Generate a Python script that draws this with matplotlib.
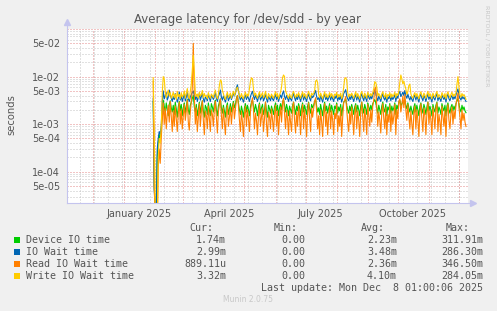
import numpy as np
import pandas as pd
import matplotlib
matplotlib.use("Agg")
import matplotlib.pyplot as plt
from matplotlib.patches import Rectangle
from matplotlib.ticker import NullLocator

W, H = 497, 311

# daily samples ending on last_day, values in milliseconds
last_day = "2025-12-08"

device_io_ms = [
    3.0, 0.05, 0.02, 0.01, 0.2, 0.4, 0.6, 0.5, 0.7, 2.1, 3.2, 2.4, 1.7, 2.8, 2.0, 1.5, 2.6, 3.1, 2.2, 1.8,
    2.5, 1.6, 2.9, 2.1, 1.4, 2.3, 3.0, 1.9, 2.6, 1.5, 2.2, 2.8, 1.7, 2.4, 3.3, 2.0, 1.6, 2.5, 2.9, 3.5,
    4.0, 2.3, 1.8, 2.6, 1.5, 2.1, 2.9, 1.7, 2.4, 3.1, 1.9, 1.4, 2.5, 2.2, 1.6, 2.8, 2.0, 1.5, 2.7, 2.3,
    1.8, 2.6, 3.2, 2.0, 1.5, 2.4, 2.9, 3.4, 2.2, 1.7, 2.5, 1.9, 1.4, 2.3, 2.8, 1.6, 2.1, 2.7, 1.8, 2.4,
    3.0, 2.2, 2.6, 3.5, 4.0, 2.8, 2.0, 1.6, 2.4, 1.9, 1.4, 2.2, 2.7, 1.8, 2.5, 2.0, 1.5, 2.3, 2.9, 3.2,
    2.4, 1.8, 2.6, 2.1, 1.5, 2.3, 2.8, 1.7, 2.2, 2.6, 1.6, 2.0, 2.9, 1.9, 1.4, 2.5, 2.1, 1.7, 2.4, 2.0,
    1.6, 2.3, 2.8, 1.9, 2.5, 1.5, 2.2, 2.7, 2.0, 2.9, 3.3, 2.4, 1.8, 2.6, 2.1, 1.5, 2.4, 2.0, 1.7, 2.5,
    2.9, 2.1, 1.6, 2.4, 1.9, 2.7, 2.2, 1.5, 2.3, 2.8, 1.8, 2.5, 2.0, 1.6, 2.4, 2.9, 2.1, 1.7, 2.6, 2.2,
    2.5, 3.0, 3.3, 2.4, 1.8, 2.2, 1.6, 2.6, 2.0, 1.5, 2.3, 2.9, 1.9, 2.4, 1.7, 2.2, 2.7, 1.8, 2.5, 2.0,
    1.6, 2.4, 2.1, 2.8, 1.7, 2.3, 1.9, 2.6, 1.5, 2.2, 2.9, 3.1, 3.4, 2.5, 2.0, 1.7, 2.4, 1.9, 2.6, 2.1,
    1.6, 2.3, 2.7, 1.8, 2.5, 2.0, 1.5, 2.4, 2.9, 2.2, 1.7, 2.6, 2.1, 1.6, 2.8, 2.3, 1.9, 2.5, 2.0, 2.7,
    3.0, 3.3, 2.8, 2.2, 1.7, 2.5, 2.0, 1.6, 2.4, 2.9, 2.1, 1.8, 2.6, 1.5, 2.3, 2.0, 2.7, 1.7, 2.4, 1.9,
    2.2, 2.8, 1.6, 2.5, 2.1, 2.9, 3.2, 2.4, 2.7, 3.0, 2.6, 3.3, 2.5, 2.1, 2.8, 2.2, 1.8, 2.4, 1.9, 1.6,
    2.3, 2.7, 1.8, 2.5, 2.0, 1.5, 2.4, 2.8, 2.1, 1.7, 2.6, 2.2, 1.6, 2.3, 2.9, 1.9, 2.4, 2.0, 1.5, 2.6,
    2.1, 1.8, 2.5, 2.9, 1.7, 2.3, 2.0, 1.6, 2.7, 2.2, 1.9, 2.5, 1.5, 2.4, 2.8, 2.0, 1.7, 2.3, 2.6, 1.9,
    2.4, 2.0, 2.7, 3.1, 3.5, 2.6, 2.1, 1.8, 2.5, 2.0, 2.3, 1.9, 1.74,
]
io_wait_ms = [
    3.5, 0.04, 0.02, 0.01, 0.3, 0.5, 0.7, 0.6, 0.9, 2.8, 5.0, 3.4, 3.9, 4.6, 3.2, 3.7, 5.2, 4.1, 3.5, 3.0,
    3.8, 3.3, 4.4, 3.6, 2.9, 3.5, 4.7, 3.2, 3.9, 3.0, 3.6, 4.3, 3.1, 3.7, 4.8, 3.4, 3.0, 3.8, 4.2, 4.6,
    5.0, 3.9, 3.3, 4.1, 3.0, 3.6, 4.4, 3.2, 3.8, 4.5, 3.4, 2.9, 3.7, 3.5, 3.1, 4.2, 3.6, 3.0, 4.0, 3.7,
    3.3, 3.9, 4.6, 3.5, 3.0, 3.8, 4.3, 5.2, 3.7, 3.2, 3.9, 3.4, 2.9, 3.6, 4.2, 3.1, 3.5, 4.0, 3.3, 3.8,
    4.5, 3.9, 4.4, 5.8, 6.7, 5.0, 3.8, 3.2, 3.7, 3.4, 2.9, 3.6, 4.1, 3.3, 3.9, 3.5, 3.0, 3.8, 4.4, 4.9,
    3.9, 3.3, 4.0, 3.6, 3.0, 3.7, 4.3, 3.2, 3.6, 4.0, 3.1, 3.5, 4.4, 3.4, 2.9, 3.8, 3.5, 3.1, 3.9, 3.4,
    3.1, 3.7, 4.2, 3.3, 3.9, 3.0, 3.6, 4.1, 3.5, 4.4, 5.0, 3.8, 3.3, 4.0, 3.5, 3.0, 3.8, 3.4, 3.1, 3.9,
    4.4, 3.6, 3.1, 3.8, 3.3, 4.1, 3.6, 3.0, 3.7, 4.3, 3.2, 3.9, 3.4, 3.0, 3.8, 4.4, 3.5, 3.1, 4.0, 3.6,
    3.9, 4.5, 5.1, 3.8, 3.3, 3.6, 3.0, 4.0, 3.4, 2.9, 3.7, 4.4, 3.3, 3.8, 3.1, 3.6, 4.2, 3.2, 3.9, 3.4,
    3.0, 3.8, 3.5, 4.3, 3.1, 3.7, 3.3, 4.0, 2.9, 3.6, 4.4, 4.8, 5.3, 3.9, 3.4, 3.1, 3.8, 3.3, 4.0, 3.5,
    3.0, 3.7, 4.2, 3.2, 3.9, 3.4, 2.9, 3.8, 4.4, 3.6, 3.1, 4.0, 3.5, 3.0, 4.3, 3.7, 3.3, 3.9, 3.4, 4.1,
    4.6, 5.2, 4.4, 3.6, 3.1, 3.9, 3.4, 3.0, 3.8, 4.4, 3.5, 3.2, 4.0, 2.9, 3.7, 3.4, 4.2, 3.1, 3.8, 3.3,
    3.6, 4.3, 3.0, 3.9, 3.5, 4.4, 4.9, 3.8, 4.2, 4.7, 4.0, 5.1, 3.9, 3.5, 4.3, 3.6, 3.2, 3.8, 3.3, 3.0,
    3.7, 4.1, 3.2, 3.9, 3.4, 2.9, 3.8, 4.3, 3.5, 3.1, 4.0, 3.6, 3.0, 3.7, 4.4, 3.3, 3.8, 3.4, 2.9, 4.0,
    3.5, 3.2, 3.9, 4.4, 3.1, 3.7, 3.4, 3.0, 4.1, 3.6, 3.3, 3.9, 2.9, 3.8, 4.3, 3.4, 3.1, 3.7, 4.0, 3.3,
    3.8, 3.4, 4.1, 4.8, 5.5, 4.0, 3.5, 3.2, 3.9, 3.4, 3.7, 3.3, 2.99,
]
read_wait_ms = [
    8.0, 0.05, 0.01, 0.005, 0.005, 0.12, 0.3, 0.15, 0.5, 1.2, 2.8, 1.0, 2.2, 0.8, 1.6, 2.5, 1.1, 3.0, 1.4, 0.7,
    1.9, 0.9, 2.4, 1.3, 0.7, 1.7, 2.9, 1.0, 2.1, 0.8, 1.5, 2.6, 1.2, 1.9, 3.2, 1.1, 0.75, 1.8, 3.0, 6.0,
    50.0, 4.0, 1.0, 2.2, 0.7, 1.4, 2.7, 0.9, 1.8, 3.1, 1.2, 0.6, 1.9, 1.5, 0.8, 2.4, 1.3, 0.7, 2.0, 1.6,
    0.9, 2.1, 3.0, 1.4, 0.65, 1.8, 2.6, 3.4, 1.5, 0.8, 2.2, 1.1, 0.6, 1.7, 2.5, 0.9, 1.4, 2.3, 1.0, 1.9,
    2.8, 1.3, 2.1, 3.3, 4.0, 2.5, 1.2, 0.7, 1.9, 1.1, 0.55, 1.6, 2.4, 0.9, 2.0, 1.3, 0.7, 1.8, 2.7, 3.6,
    2.0, 0.8, 1.7, 1.2, 0.6, 1.5, 2.6, 0.9, 1.4, 2.2, 0.7, 1.3, 2.9, 1.0, 0.55, 1.8, 1.4, 0.8, 2.1, 1.2,
    0.7, 1.6, 2.5, 0.9, 1.9, 0.6, 1.4, 2.3, 1.1, 2.8, 3.5, 1.7, 0.8, 2.0, 1.3, 0.6, 1.9, 1.1, 0.7, 2.2,
    2.9, 1.2, 0.65, 1.8, 0.9, 2.4, 1.4, 0.6, 1.6, 2.6, 0.8, 2.0, 1.2, 0.55, 1.7, 2.8, 1.3, 0.7, 2.2, 1.4,
    2.1, 3.0, 3.6, 1.9, 0.8, 1.5, 0.6, 2.0, 1.1, 0.55, 1.6, 2.7, 0.9, 1.8, 0.6, 1.4, 2.4, 0.8, 1.9, 1.2,
    0.6, 1.7, 1.3, 2.6, 0.7, 1.5, 0.9, 2.2, 0.55, 1.4, 2.8, 3.2, 3.8, 2.0, 1.1, 0.7, 1.8, 1.0, 2.3, 1.3,
    0.6, 1.6, 2.5, 0.8, 1.9, 1.2, 0.55, 1.7, 2.9, 1.4, 0.7, 2.1, 1.3, 0.6, 2.6, 1.5, 0.9, 2.0, 1.1, 2.4,
    3.2, 5.5, 6.0, 2.4, 0.9, 1.8, 1.2, 0.65, 1.7, 2.7, 1.3, 0.8, 2.2, 0.6, 1.6, 1.1, 2.5, 0.7, 1.9, 1.0,
    1.5, 2.6, 0.6, 2.0, 1.3, 2.9, 3.4, 1.8, 2.5, 3.9, 2.2, 4.2, 2.0, 1.2, 2.6, 1.4, 0.8, 1.9, 1.0, 0.6,
    1.7, 2.4, 0.8, 2.0, 1.2, 0.55, 1.8, 2.7, 1.3, 0.7, 2.2, 1.5, 0.6, 1.7, 2.9, 1.0, 1.9, 1.2, 0.6, 2.3,
    1.4, 0.8, 2.1, 2.8, 0.7, 1.6, 1.1, 0.6, 2.4, 1.5, 0.9, 2.0, 0.55, 1.8, 2.6, 1.2, 0.8, 1.7, 2.3, 1.0,
    1.9, 1.3, 2.6, 3.4, 4.5, 2.2, 1.4, 0.8, 2.0, 1.2, 1.7, 1.1, 0.889,
]
write_wait_ms = [
    9.5, 0.8, 0.02, 0.01, 0.005, 0.2, 0.5, 0.4, 0.9, 4.5, 10.0, 9.0, 4.8, 3.6, 4.4, 5.2, 3.9, 4.6, 3.5, 4.0,
    4.7, 3.6, 4.3, 3.3, 4.9, 3.8, 4.2, 3.4, 4.6, 3.7, 4.1, 5.0, 3.5, 4.4, 5.6, 3.9, 3.4, 4.8, 7.0, 14.0,
    28.0, 12.0, 4.6, 3.8, 4.3, 3.5, 4.7, 3.9, 4.2, 5.1, 3.6, 4.4, 3.8, 4.0, 3.4, 4.6, 3.9, 3.5, 4.3, 4.0,
    3.6, 4.5, 5.2, 3.9, 3.4, 4.2, 6.5, 8.5, 8.0, 5.0, 4.4, 3.7, 3.3, 4.1, 4.7, 3.6, 4.0, 4.5, 3.5, 4.2,
    4.9, 4.0, 4.6, 5.5, 6.0, 4.8, 4.1, 3.6, 4.4, 3.8, 3.4, 4.2, 4.7, 3.7, 4.3, 3.9, 5.5, 8.0, 9.4, 9.0,
    5.5, 3.9, 4.5, 4.0, 3.5, 4.2, 4.8, 3.7, 4.1, 4.6, 3.6, 4.0, 4.9, 3.8, 3.4, 4.4, 4.0, 3.6, 4.3, 3.9,
    3.5, 4.2, 4.8, 3.8, 4.4, 3.4, 4.1, 4.7, 6.0, 9.5, 10.8, 10.0, 5.0, 4.4, 3.9, 3.5, 4.3, 3.8, 3.5, 4.4,
    4.9, 4.1, 3.6, 4.3, 3.8, 4.6, 4.0, 3.5, 4.2, 4.8, 3.7, 4.4, 3.9, 3.5, 4.2, 4.9, 4.0, 3.6, 4.5, 4.1,
    4.4, 5.0, 8.0, 8.5, 7.5, 4.2, 3.6, 4.5, 3.9, 3.4, 4.1, 4.8, 3.7, 4.3, 3.6, 4.0, 4.6, 3.7, 4.4, 3.9,
    3.5, 4.3, 4.0, 4.7, 3.6, 4.2, 3.8, 4.5, 3.4, 4.0, 6.0, 9.0, 9.5, 8.5, 4.6, 3.7, 4.3, 3.9, 4.5, 4.0,
    3.5, 4.2, 4.8, 3.7, 4.4, 3.9, 3.4, 4.3, 4.9, 4.1, 3.6, 4.5, 4.0, 3.5, 4.7, 4.2, 3.8, 4.4, 3.9, 4.6,
    5.5, 7.8, 7.5, 6.0, 3.9, 4.4, 4.0, 3.5, 4.3, 4.8, 4.0, 3.7, 4.5, 3.4, 4.2, 3.9, 4.6, 3.6, 4.3, 3.8,
    4.1, 4.7, 3.6, 4.4, 4.0, 4.9, 7.5, 10.8, 9.0, 7.0, 8.0, 6.5, 5.5, 4.2, 4.8, 6.5, 7.0, 4.3, 3.8, 3.5,
    4.2, 4.6, 3.7, 4.4, 3.9, 3.4, 4.3, 4.8, 4.0, 3.6, 4.5, 4.1, 3.5, 4.2, 4.9, 3.8, 4.4, 3.9, 3.4, 4.5,
    4.0, 3.7, 4.4, 4.9, 3.6, 4.2, 3.9, 3.5, 4.6, 4.1, 3.7, 4.4, 3.4, 4.3, 4.8, 4.0, 3.6, 4.2, 4.7, 3.8,
    4.3, 3.9, 4.6, 7.0, 10.0, 6.0, 4.1, 3.7, 4.4, 3.9, 4.2, 3.8, 3.32,
]

series_names = ["Device IO time", "IO Wait time", "Read IO Wait time", "Write IO Wait time"]
series_colors = ["#00CC00", "#0066B3", "#FF8000", "#FFCC00"]
cur_vals = ["1.74m", "2.99m", "889.11u", "3.32m"]
min_vals = ["0.00", "0.00", "0.00", "0.00"]
avg_vals = ["2.23m", "3.48m", "2.36m", "4.10m"]
max_vals = ["311.91m", "286.30m", "346.50m", "284.05m"]

month_labels = ["January 2025", "April 2025", "July 2025", "October 2025"]
month_label_dates = ["2025-01-16", "2025-04-16", "2025-07-16", "2025-10-16"]
y_label_vals = [5e-05, 1e-04, 5e-04, 1e-03, 5e-03, 1e-02, 5e-02]

x_start, x_end = pd.Timestamp("2024-11-05"), pd.Timestamp("2025-12-10")
y_lo, y_hi = 2.2e-5, 1e-1

MAJ = "#E48A8A"
MINC = "#C4C4C4"
AXC = "#C4C4EE"
TXT = "#555555"
DOT = (0, (1, 2))

fig = plt.figure(figsize=(W / 100, H / 100), dpi=100, facecolor="#F0F0F0")
ax = fig.add_axes([67 / W, 1 - 203 / H, 401 / W, 174 / H])
ax.set_facecolor("white")
ax.set_yscale("log")
ax.set_xlim(x_start, x_end)
ax.set_ylim(y_lo, y_hi)
for s in ax.spines.values():
    s.set_visible(False)

# grid: biweekly / month, log minor / 1 & 5 major
for d in pd.date_range("2024-11-18", x_end, freq="14D"):
    ax.axvline(d, color=MINC, lw=0.72, ls=DOT, zorder=1)
for dec in range(-5, 0):
    for k in (2, 3, 4, 6, 7, 8, 9):
        ax.axhline(k * 10.0 ** dec, color=MINC, lw=0.72, ls=DOT, zorder=1)
for d in pd.date_range("2024-12-01", "2025-12-01", freq="MS"):
    ax.axvline(d, color=MAJ, lw=0.72, ls=DOT, zorder=2)
for dec in range(-5, 0):
    for k in (1, 5):
        ax.axhline(k * 10.0 ** dec, color=MAJ, lw=0.72, ls=DOT, zorder=2)

for vals, col in zip([device_io_ms, io_wait_ms, read_wait_ms, write_wait_ms], series_colors):
    dates = pd.date_range(end=last_day, periods=len(vals), freq="D")
    ax.plot(dates, np.array(vals) * 1e-3, color=col, lw=0.8, zorder=3)

ax.set_xticks([pd.Timestamp(d) for d in month_label_dates])
ax.set_xticklabels(month_labels)
ax.set_yticks(y_label_vals)
ax.set_yticklabels(["%.0e" % v for v in y_label_vals])
ax.yaxis.set_minor_locator(NullLocator())
ax.tick_params(axis="both", length=0, labelsize=7, colors=TXT)
ax.tick_params(axis="x", pad=4.5)
ax.tick_params(axis="y", pad=5)

# axis lines with arrows
ax.plot([0, 0], [0, 1.035], transform=ax.transAxes, color=AXC, lw=0.8, clip_on=False, zorder=4)
ax.plot([0, 1.01], [0, 0], transform=ax.transAxes, color=AXC, lw=0.8, clip_on=False, zorder=4)
ax.plot([0], [1.04], marker="^", ms=4, color=AXC, transform=ax.transAxes, clip_on=False)
ax.plot([1.012], [0], marker=">", ms=4, color=AXC, transform=ax.transAxes, clip_on=False)

def fx(px):
    return px / W

def fy(py):
    return 1 - py / H

fig.text(fx(248), fy(19), "Average latency for /dev/sdd - by year", ha="center", va="center",
         fontsize=8.5, color=TXT)
fig.text(fx(11), fy(115), "seconds", rotation=90, ha="center", va="center", fontsize=7.2, color=TXT)
fig.text(fx(487), fy(5), "RRDTOOL / TOBI OETIKER", rotation=270, ha="center", va="top",
         fontsize=4.6, color="#C8C8C8")

mono = dict(family="DejaVu Sans Mono", fontsize=7.2, color=TXT, va="center")
for label, xr in zip(["Cur:", "Min:", "Avg:", "Max:"], [213, 298, 385, 470]):
    fig.text(fx(xr), fy(228), label, ha="right", **mono)

for i, name in enumerate(series_names):
    yy = 240 + 12 * i
    fig.add_artist(Rectangle((fx(14), fy(yy + 3)), 6 / W, 6 / H, transform=fig.transFigure,
                             facecolor=series_colors[i], edgecolor="none"))
    fig.text(fx(26), fy(yy), name, ha="left", **mono)
    for col, xr in zip([cur_vals, min_vals, avg_vals, max_vals], [226, 305, 397, 483]):
        fig.text(fx(xr), fy(yy), col[i], ha="right", **mono)

fig.text(fx(483), fy(288), "Last update: Mon Dec  8 01:00:06 2025", ha="right", **mono)
fig.text(fx(248), fy(300), "Munin 2.0.75", ha="center", va="center", fontsize=5.5, color="#C8C8C8")

fig.savefig("out.png", dpi=100, facecolor=fig.get_facecolor())
